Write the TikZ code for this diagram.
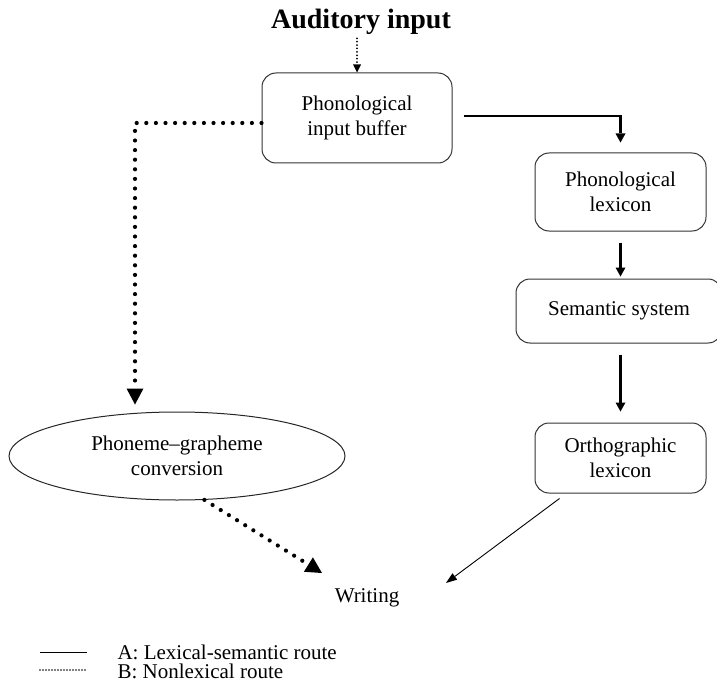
\documentclass[tikz,border=0pt]{standalone}
\usepackage{fontspec}
\setmainfont{Liberation Serif}
\usetikzlibrary{arrows.meta,shapes.geometric}

\begin{document}
\begin{tikzpicture}[x=1pt,y=-1pt,
  txt/.style={font=\fontsize{21}{25}\selectfont,align=center},
  box/.style={txt,draw=black!80,line width=1pt,rounded corners=14pt,inner sep=0pt},
  lexical/.style={line width=2.8pt,shorten <=11pt,-{Triangle[width=10pt,length=9pt,line width=0pt]}},
  nonlexical/.style={line width=4.2pt,line cap=round,dash pattern=on 0pt off 9.6pt,
    -{Triangle[width=17pt,length=16pt,line width=0pt]}},
  audarrow/.style={line width=2pt,line cap=round,dash pattern=on 0pt off 3.4pt,
    -{Triangle[width=8pt,length=8pt,line width=0pt]}}]
\useasboundingbox (0,0) rectangle (717,687);
\clip (0,0) rectangle (717,687);

\node[font=\fontsize{28}{30}\selectfont\bfseries] (aud) at (361,22) {Auditory input};
\node[box,minimum width=190pt,minimum height=90pt] (buf) at (357,118) {Phonological\\input buffer};
\node[box,minimum width=171pt,minimum height=78pt] (lex) at (620.5,192) {Phonological\\lexicon};
\node[box,minimum width=206pt,minimum height=64pt] (sem) at (619,311) {Semantic system};
\node[box,minimum width=171pt,minimum height=70pt] (orth) at (620.5,458) {Orthographic\\lexicon};
\node[txt,ellipse,draw=black!85,line width=1pt,minimum width=336pt,minimum height=88pt,inner sep=0pt]
  (pgc) at (177,456) {Phoneme–grapheme\\conversion};
\node[txt] (wrt) at (367,598) {Writing};
\coordinate (bend) at (135,123);
\coordinate (wrtL) at ([xshift=-45pt,yshift=25pt]wrt.center);
\coordinate (wrtR) at ([xshift=79pt,yshift=15pt]wrt.center);

\draw[audarrow] (buf.north |- aud.south) -- (buf.north);
\draw[nonlexical,shorten >=7pt] ([yshift=-5pt]buf.west) -- (bend) -- (bend |- pgc.north);
\draw[lexical,shorten >=10pt] ([yshift=2pt]buf.east) -| (lex.north);
\draw[lexical,shorten >=2pt] (lex.south) -- (lex.south |- sem.north);
\draw[lexical,shorten >=11pt] (sem.south -| orth.north) -- (orth.north);
\draw[line width=0.9pt,-{Triangle[width=8pt,length=11pt,line width=0pt]}]
  ([xshift=25pt,yshift=-5pt]orth.south west) -- (wrtR);
\draw[nonlexical] (pgc.-58) -- (wrtL);

\coordinate (la) at (40,652);
\coordinate (lb) at (40,670);
\draw[line width=1pt] (la) -- ++(47,0);
\draw[line width=1.9pt,line cap=round,dash pattern=on 0pt off 3pt] (lb) -- ++(47,0);
\node[txt,anchor=west] (lega) at (114,652) {A: Lexical-semantic route};
\node[txt,anchor=west] (legb) at (114,671) {B: Nonlexical route};
\end{tikzpicture}
\end{document}
